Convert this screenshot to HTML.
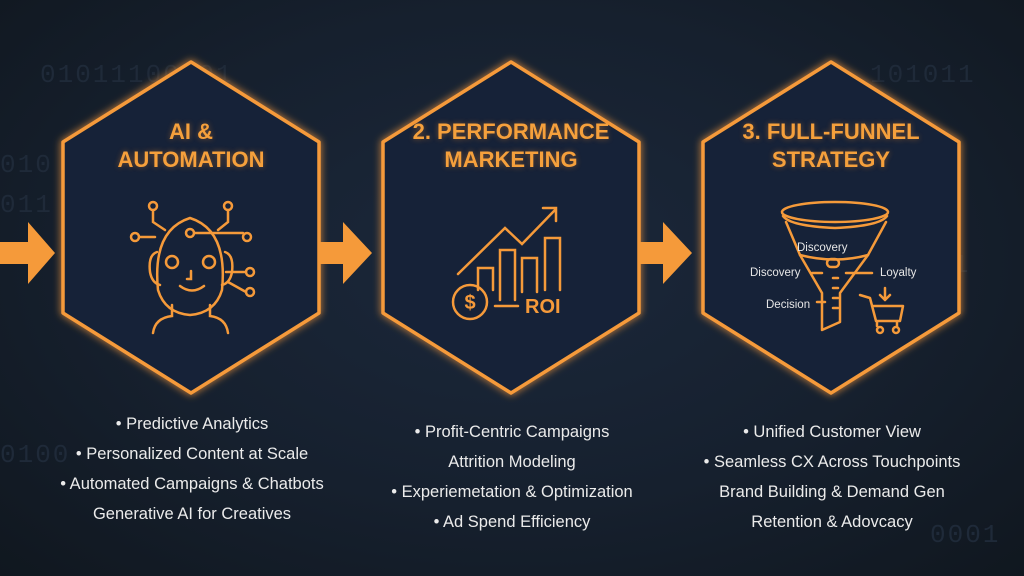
<!DOCTYPE html>
<html><head><meta charset="utf-8"><style>
html,body{margin:0;padding:0}
body{width:1024px;height:576px;overflow:hidden;position:relative;font-family:"Liberation Sans",sans-serif;
background:radial-gradient(ellipse at 50% 45%,#1b283b 0%,#16202e 55%,#10171f 100%);}
.bin{position:absolute;color:#1f2a39;font-size:26px;font-family:"Liberation Mono",monospace;letter-spacing:2px}
.t{position:absolute;color:#f5a03c;font-weight:bold;font-size:22px;text-align:center;line-height:28px;text-shadow:0 0 6px rgba(245,140,40,.45)}
.b{position:absolute;color:#ebebeb;font-size:16.5px;text-align:center;line-height:30px;white-space:nowrap}
</style></head><body>
<div class="bin" style="left:40px;top:60px">01011100101</div>
<div class="bin" style="left:870px;top:60px">101011</div>
<div class="bin" style="left:0;top:150px">010</div>
<div class="bin" style="left:0;top:190px">011</div>
<div class="bin" style="left:900px;top:250px">0001</div>
<div class="bin" style="left:0;top:440px">0100</div>
<div class="bin" style="left:930px;top:520px">0001</div>
<svg width="1024" height="576" style="position:absolute;left:0;top:0">
<defs><filter id="g" x="-20%" y="-20%" width="140%" height="140%"><feGaussianBlur stdDeviation="4" result="b"/><feMerge><feMergeNode in="b"/><feMergeNode in="SourceGraphic"/></feMerge></filter></defs>
<g fill="none" stroke="#f59a3a" stroke-width="3.5" stroke-linejoin="round" filter="url(#g)">
<path d="M191 62 L319 142 L319 313 L191 393 L63 313 L63 142 Z" fill="#172337"/>
<path d="M511 62 L639 142 L639 313 L511 393 L383 313 L383 142 Z" fill="#172337"/>
<path d="M831 62 L959 142 L959 313 L831 393 L703 313 L703 142 Z" fill="#172337"/>
</g>
<g fill="#f59a3a">
<path d="M0 242 H28 V222 L55 253 L28 284 V264 H0 Z"/>
<path d="M320 242 H343 V222 L372 253 L343 284 V264 H320 Z"/>
<path d="M640 242 H663 V222 L692 253 L663 284 V264 H640 Z"/>
</g>
<!-- robot -->
<g fill="none" stroke="#f59a3a" stroke-width="2.5" stroke-linecap="round">
<path d="M157 252 Q148 255 150 272 Q152 283 160 285 M225 252 Q234 255 232 272 Q230 283 222 285"/>
<path d="M158 290 Q152 230 190 218 Q228 230 222 290 Q215 313 190 315 Q165 313 158 290 Z"/>
<circle cx="172" cy="262" r="6"/><circle cx="209" cy="262" r="6"/>
<path d="M191 271 v8 h-4 M180 286 Q192 295 204 286"/>
<path d="M153 333 Q155 318 172 316 V305 M228 333 Q226 318 210 316 V305"/>
<circle cx="153" cy="206" r="4"/><circle cx="228" cy="206" r="4"/><circle cx="135" cy="237" r="4"/><circle cx="247" cy="237" r="4"/><circle cx="190" cy="233" r="4"/><circle cx="250" cy="272" r="4"/><circle cx="250" cy="292" r="4"/>
<path d="M153 210 V222 L165 230 M228 210 V222 L218 230 M139 237 H155 M194 233 H243 M246 272 H226 M246 292 L228 282"/>
</g>
<!-- ROI -->
<g fill="none" stroke="#f59a3a" stroke-width="2.5" stroke-linecap="round">
<path d="M458 274 L505 228 L522 244 L555 210 M543 208 H556 V221"/>
<path d="M478 290 V268 H493 V290 M500 300 V250 H515 V300 M522 292 V258 H537 V292 M545 290 V238 H560 V290 M495 306 H518"/>
<circle cx="470" cy="302" r="17"/>
</g>
<text x="470" y="309" fill="#f59a3a" font-size="20" font-weight="bold" text-anchor="middle" font-family="Liberation Sans">$</text>
<text x="525" y="313" fill="#f59a3a" font-size="20" font-weight="bold" font-family="Liberation Sans">ROI</text>
<!-- funnel -->
<g fill="none" stroke="#f59a3a" stroke-width="2.5" stroke-linecap="round" stroke-linejoin="round">
<ellipse cx="835" cy="212" rx="53" ry="10"/>
<path d="M783 216 Q790 226 835 228 Q880 226 887 216"/>
<path d="M786 222 L800 255 Q835 264 868 255 L886 222"/>
<path d="M800 255 L822 293 V330 L840 322 V293 L868 255"/>
<rect x="827" y="259" width="12" height="8" rx="4"/>
<path d="M812 273 H822 M846 273 H872 M817 302 H825 M833 278h5 M833 288h5 M833 298h5 M833 308h5"/>
<path d="M860 295 L870 298 L876 321 H900 L903 306 H872 M877 322 V326 M897 322 V326"/>
<circle cx="880" cy="330" r="3"/><circle cx="896" cy="330" r="3"/>
<path d="M885 288 V300 M880 295 L885 300 L890 295"/>
</g>
<g fill="#e6e6e6" font-family="Liberation Sans" font-size="11.5">
<text x="797" y="251">Discovery</text>
<text x="750" y="276">Discovery</text>
<text x="880" y="276">Loyalty</text>
<text x="766" y="308">Decision</text>
</g>
</svg>
<div class="t" style="left:91px;top:118px;width:200px">AI &amp;<br>AUTOMATION</div>
<div class="t" style="left:381px;top:118px;width:260px">2. PERFORMANCE<br>MARKETING</div>
<div class="t" style="left:711px;top:118px;width:240px">3. FULL-FUNNEL<br>STRATEGY</div>
<div class="b" style="left:0;width:384px;top:409px">• Predictive Analytics<br>• Personalized Content at Scale<br>• Automated Campaigns &amp; Chatbots<br>Generative AI for Creatives</div>
<div class="b" style="left:312px;width:400px;top:417px">• Profit-Centric Campaigns<br>Attrition Modeling<br>• Experiemetation &amp; Optimization<br>• Ad Spend Efficiency</div>
<div class="b" style="left:632px;width:400px;top:417px">• Unified Customer View<br>• Seamless CX Across Touchpoints<br>Brand Building &amp; Demand Gen<br>Retention &amp; Adovcacy</div>
</body></html>
